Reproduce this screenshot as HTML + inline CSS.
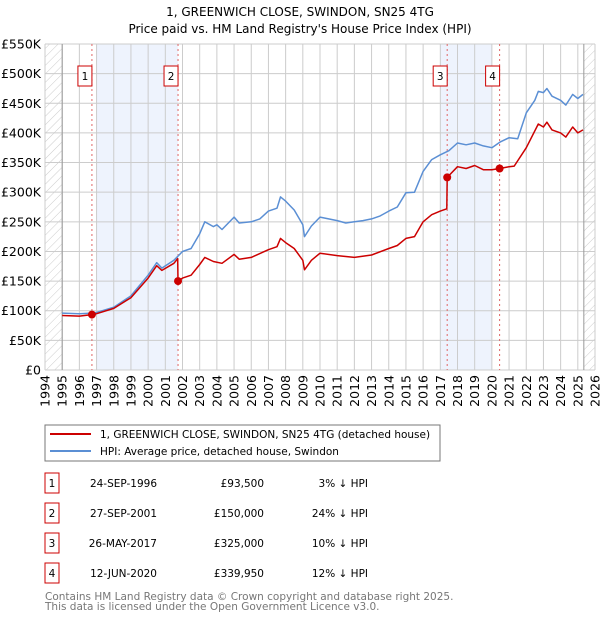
<!DOCTYPE html>
<html><head><meta charset="utf-8"><style>
body{margin:0;background:#fff;width:600px;height:620px;overflow:hidden;font-family:"DejaVu Sans","Liberation Sans",sans-serif}
svg text{font-family:"DejaVu Sans","Liberation Sans",sans-serif}
</style></head><body>
<svg id="c" width="600" height="620" xmlns="http://www.w3.org/2000/svg">
<defs><pattern id="hatch" width="6" height="6" patternUnits="userSpaceOnUse" patternTransform="rotate(45)"><line x1="0" y1="0" x2="0" y2="6" stroke="#ccc" stroke-width="1"/></pattern></defs>
<text x="300" y="16" text-anchor="middle" font-size="12">1, GREENWICH CLOSE, SWINDON, SN25 4TG</text>
<text x="300" y="33" text-anchor="middle" font-size="12">Price paid vs. HM Land Registry's House Price Index (HPI)</text>
<g id="plot"></g>
<rect x="45" y="425" width="395" height="36" fill="#fff" stroke="#777"/>
<line x1="50" y1="434" x2="91" y2="434" stroke="#cc0000" stroke-width="2"/>
<text x="100" y="438" font-size="10.5">1, GREENWICH CLOSE, SWINDON, SN25 4TG (detached house)</text>
<line x1="50" y1="451" x2="91" y2="451" stroke="#5b8fd4" stroke-width="2"/>
<text x="100" y="455" font-size="10.5">HPI: Average price, detached house, Swindon</text>
<g id="tbl" font-size="10.5"></g>
<text x="45" y="600" font-size="10.5" fill="#777">Contains HM Land Registry data © Crown copyright and database right 2025.</text>
<text x="45" y="610" font-size="10.5" fill="#777">This data is licensed under the Open Government Licence v3.0.</text>
</svg>
<script>
const yTicks=[0,50,100,150,200,250,300,350,400,450,500,550];
const xYears=[1994,1995,1996,1997,1998,1999,2000,2001,2002,2003,2004,2005,2006,2007,2008,2009,2010,2011,2012,2013,2014,2015,2016,2017,2018,2019,2020,2021,2022,2023,2024,2025,2026];
const hpiT=[1995,1996,1996.7,1997,1998,1999,2000,2000.5,2000.8,2001.5,2002,2002.5,2003,2003.3,2003.8,2004,2004.3,2005,2005.3,2006,2006.5,2007,2007.5,2007.7,2008,2008.5,2009,2009.1,2009.5,2010,2010.5,2011,2011.5,2012,2012.5,2013,2013.5,2014,2014.5,2015,2015.5,2016,2016.5,2017,2017.5,2018,2018.5,2019,2019.5,2020,2020.5,2021,2021.5,2022,2022.5,2022.7,2023,2023.2,2023.5,2024,2024.3,2024.7,2025,2025.3];
const hpiV=[96,95,96,97,106,125,160,181,172,185,200,205,230,250,242,245,237,258,248,250,255,268,273,292,285,270,245,225,243,258,255,252,248,250,252,255,260,268,275,299,300,335,355,363,370,383,380,383,378,375,385,392,390,434,455,470,468,475,462,455,447,465,458,465];
const redT=[1995,1996,1996.73,1997,1998,1999,2000,2000.5,2000.8,2001.5,2001.72,2001.74,2002,2002.5,2003,2003.3,2003.8,2004.3,2005,2005.3,2006,2007,2007.5,2007.7,2008,2008.5,2009,2009.1,2009.5,2010,2011,2012,2013,2014,2014.5,2015,2015.5,2016,2016.5,2017,2017.38,2017.4,2018,2018.5,2019,2019.5,2020,2020.45,2021,2021.3,2022,2022.7,2023,2023.2,2023.5,2024,2024.3,2024.7,2025,2025.3];
const redV=[92,91,93.5,95,104,122,155,176,168,180,188,150,155,160,178,190,183,180,195,187,190,203,208,222,215,205,185,169,185,197,193,190,194,205,210,222,225,250,262,268,272,325,343,340,345,338,338,340,343,344,375,415,410,418,405,400,393,410,400,405];
const saleT=[1996.73,2001.74,2017.40,2020.45];
const saleV=[93.5,150,325,339.95];
const saleLbl=["1","2","3","4"];
const saleDate=["24-SEP-1996","27-SEP-2001","26-MAY-2017","12-JUN-2020"];
const salePrice=["£93,500","£150,000","£325,000","£339,950"];
const saleHpi=["3% ↓ HPI","24% ↓ HPI","10% ↓ HPI","12% ↓ HPI"];
const bands=[[1997,2001.74],[2017.0,2020.0]];

const NS="http://www.w3.org/2000/svg";
const L=45,R=595,T=44,B=370;
const xs=t=>L+(t-1994)/32*(R-L);
const ys=v=>B-v/550*(B-T);
const g=document.getElementById('plot');
function mk(tag,a,p){const e=document.createElementNS(NS,tag);for(const k in a)e.setAttribute(k,a[k]);(p||g).appendChild(e);return e;}
bands.forEach(b=>{const e=mk('rect',{x:xs(b[0]),y:T,width:xs(b[1])-xs(b[0]),height:B-T,fill:'#eef3fd'});

});
const h1=mk('rect',{x:L,y:T,width:xs(1995)-L,height:B-T,fill:'url(#hatch)'});


const h2=mk('rect',{x:xs(2025.35),y:T,width:R-xs(2025.35),height:B-T,fill:'url(#hatch)'});


yTicks.forEach(v=>{const y=ys(v);const l=mk('line',{x1:L,x2:R,y1:y,y2:y,stroke:'#ccc'});


const t=mk('text',{x:L-4,y:y+4.5,'text-anchor':'end','font-size':'12.5'});t.textContent=v===0?'£0':'£'+v+'K';

});
xYears.forEach(yr=>{const x=xs(yr);const l=mk('line',{x1:x,x2:x,y1:T,y2:B,stroke:'#ccc'});


const t=mk('text',{x:0,y:0,'text-anchor':'end','font-size':'12.5',transform:`translate(${x+4.5},${B+5}) rotate(-90)`});t.textContent=yr;

});
[xs(1995),xs(2025.35)].forEach(x=>{const l=mk('line',{x1:x,x2:x,y1:T,y2:B,stroke:'#999'});

});
saleT.forEach((t,i)=>{const x=xs(t);const l=mk('line',{x1:x,x2:x,y1:T,y2:B,stroke:'#e06666','stroke-dasharray':'2,3'});


const r=mk('rect',{x:x-14,y:66,width:14,height:20,fill:'#fff',stroke:'#cc0000'});


const tx=mk('text',{x:x-7,y:80,'text-anchor':'middle','font-size':'10.5'});tx.textContent=saleLbl[i];

});
const pts=(T_,V_)=>T_.map((t,i)=>xs(t).toFixed(1)+','+ys(V_[i]).toFixed(1)).join(' ');
const hl=mk('polyline',{points:pts(hpiT,hpiV),fill:'none',stroke:'#5b8fd4','stroke-width':1.5,'stroke-linejoin':'round'});


const rl=mk('polyline',{points:pts(redT,redV),fill:'none',stroke:'#cc0000','stroke-width':1.5,'stroke-linejoin':'round'});


saleT.forEach((t,i)=>{const c=mk('circle',{cx:xs(t),cy:ys(saleV[i]),r:4,fill:'#cc0000'});

});
const tb=document.getElementById('tbl');
saleT.forEach((t,i)=>{const y=483+i*30;
const r=mk('rect',{x:45,y:y-10,width:14,height:20,fill:'none',stroke:'#cc0000'},tb);


const a=mk('text',{x:52,y:y+4,'text-anchor':'middle'},tb);a.textContent=saleLbl[i];


const d=mk('text',{x:157,y:y+4,'text-anchor':'end'},tb);d.textContent=saleDate[i];


const p=mk('text',{x:264,y:y+4,'text-anchor':'end'},tb);p.textContent=salePrice[i];


const h=mk('text',{x:368,y:y+4,'text-anchor':'end'},tb);h.textContent=saleHpi[i];

});
</script>
</body></html>
